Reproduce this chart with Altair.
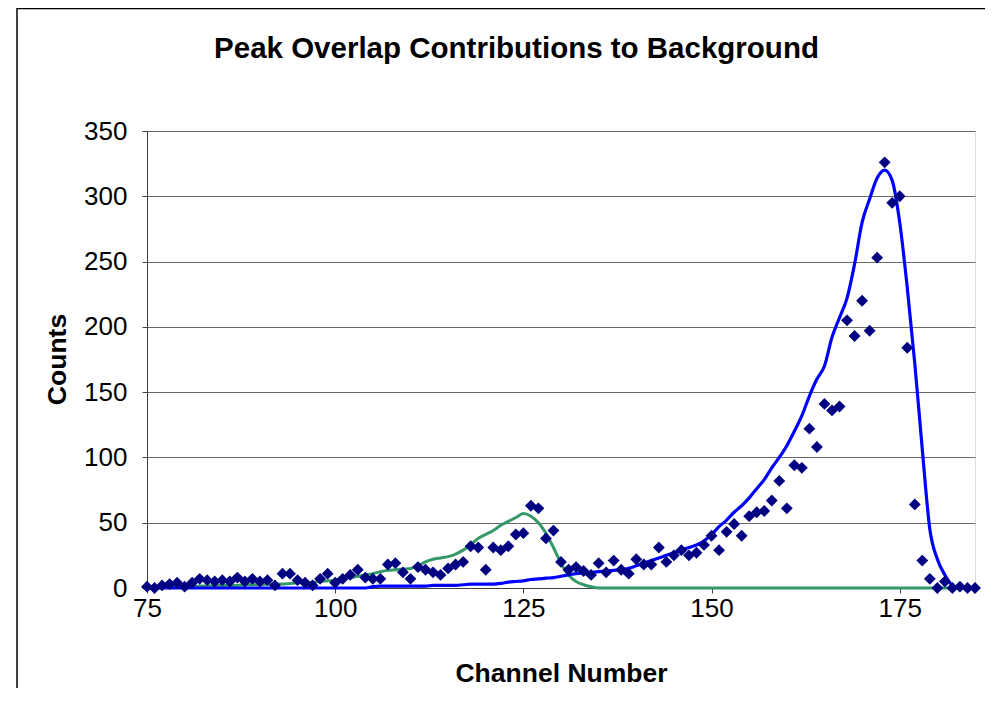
import altair as alt
import pandas as pd

channels = list(range(75, 186))

counts = [1, 0, 2, 3, 4, 1, 4, 7, 6, 5,
          6, 5, 8, 5, 7, 5, 6, 2, 11, 11,
          6, 4, 2, 7, 11, 4, 7, 10, 14, 8,
          7, 7, 18, 19, 12, 7, 16, 14, 12, 10,
          15, 18, 20, 32, 31, 14, 31, 29, 32, 41,
          42, 63, 61, 38, 44, 20, 14, 16, 13, 10,
          19, 12, 21, 14, 11, 22, 18, 18, 31, 20,
          25, 29, 25, 27, 33, 40, 29, 43, 49, 40,
          55, 58, 59, 67, 82, 61, 94, 92, 122, 108,
          141, 136, 139, 205, 193, 220, 197, 253, 326, 295,
          300, 184, 64, 21, 7, 0, 5, 0, 1, 0,
          0]

blue_fit = ([0] * 30 + [1] + [1.5] * 7 + [2] * 4 + [2.5] + [3] * 4 +
            [3.5, 4.5, 5, 5.5, 6.5, 7, 7.5, 8, 9, 10,
             11, 11.5, 12, 12.5, 13, 13.5, 14, 15, 17, 19,
             21, 23, 25, 27, 29, 31, 33, 36, 41, 47,
             52, 58, 63, 69, 76, 83, 92, 100, 109, 120,
             132, 147, 160, 170, 192, 207, 222, 248, 280, 298,
             314, 320, 312, 280, 230, 172, 106, 45, 22, 10,
             2, 0, 0, 0])

green_fit = ([0, 0, 0.5, 0.5, 1, 1, 1, 1.5, 1.5, 2,
              2, 2, 2, 2.5, 2.5, 2.5, 3, 3, 3, 3.5,
              4, 4, 4.5, 5, 5.5, 6, 7, 8, 9, 10,
              11, 12.5, 13.5, 14, 14.5, 15, 17, 20, 22, 23,
              24, 26, 29, 33, 38, 41, 44, 48, 51, 54,
              57, 55, 50, 42, 31, 19, 10, 5, 2.5, 1] + [0] * 51)

title_text = ["Peak Overlap Contributions to Background"]

assert len(counts) == len(channels) == len(blue_fit) == len(green_fit)

df = pd.DataFrame({"channel": channels, "counts": counts,
                   "blue": blue_fit, "green": green_fit})

FONT = "Liberation Sans"

xscale = alt.Scale(domain=[75, 185], nice=False, zero=False)
yscale = alt.Scale(domain=[0, 350], nice=False, zero=True)

xaxis = alt.Axis(values=[75, 100, 125, 150, 175], title="Channel Number",
                 grid=False, tickSize=5, labelPadding=2, labelFontSize=26,
                 labelFont=FONT, labelColor="black", labelFlush=False,
                 titleFont=FONT,
                 titleFontSize=26.5, titleFontWeight="bold", titleColor="black",
                 titleX=414, titleY=85, titleBaseline="middle",
                 domainColor="#404040", tickColor="#404040")
yaxis = alt.Axis(values=list(range(0, 351, 50)), title="Counts",
                 grid=True, gridColor="#6a6a6a", tickSize=5, labelPadding=15,
                 labelFontSize=26, labelFont=FONT, labelColor="black",
                 labelFlush=False,
                 titleFont=FONT, titleFontSize=26.5, titleFontWeight="bold",
                 titleColor="black", titleX=-90, titleY=228,
                 titleBaseline="middle", titleAlign="center",
                 domainColor="#404040", tickColor="#404040")

base = alt.Chart(df)
single = alt.Chart(pd.DataFrame({"t": title_text}))

frame = single.mark_rect(
    fillOpacity=0, stroke="black", strokeWidth=1.5, clip=False
).encode(x=alt.value(-130), x2=alt.value(1200), y=alt.value(-122.5), y2=alt.value(900))

title = single.mark_text(
    font=FONT, fontSize=29.5, fontWeight="bold", color="black",
    align="center", baseline="middle", clip=False
).encode(text="t:N", x=alt.value(369.5), y=alt.value(-82))

green = base.mark_line(color="#339966", strokeWidth=3, interpolate="monotone").encode(
    x=alt.X("channel:Q", scale=xscale, axis=xaxis),
    y=alt.Y("green:Q", scale=yscale, axis=yaxis),
)
blue = base.mark_line(color="#0000FF", strokeWidth=3.2, interpolate="monotone").encode(
    x=alt.X("channel:Q", scale=xscale),
    y=alt.Y("blue:Q", scale=yscale),
)
points = base.mark_point(shape="diamond", filled=True, size=140, color="#000080", opacity=1).encode(
    x=alt.X("channel:Q", scale=xscale),
    y=alt.Y("counts:Q", scale=yscale),
)

chart = alt.layer(frame, title, green, blue, points).properties(
    width=828, height=457,
    autosize=alt.AutoSizeParams(type="none"),
    padding={"left": 139, "top": 123, "right": 10, "bottom": 100},
).configure_view(stroke="#808080", strokeWidth=1).configure(background="white")

chart.save("out.html", embed_options={"renderer": "svg", "actions": False})
